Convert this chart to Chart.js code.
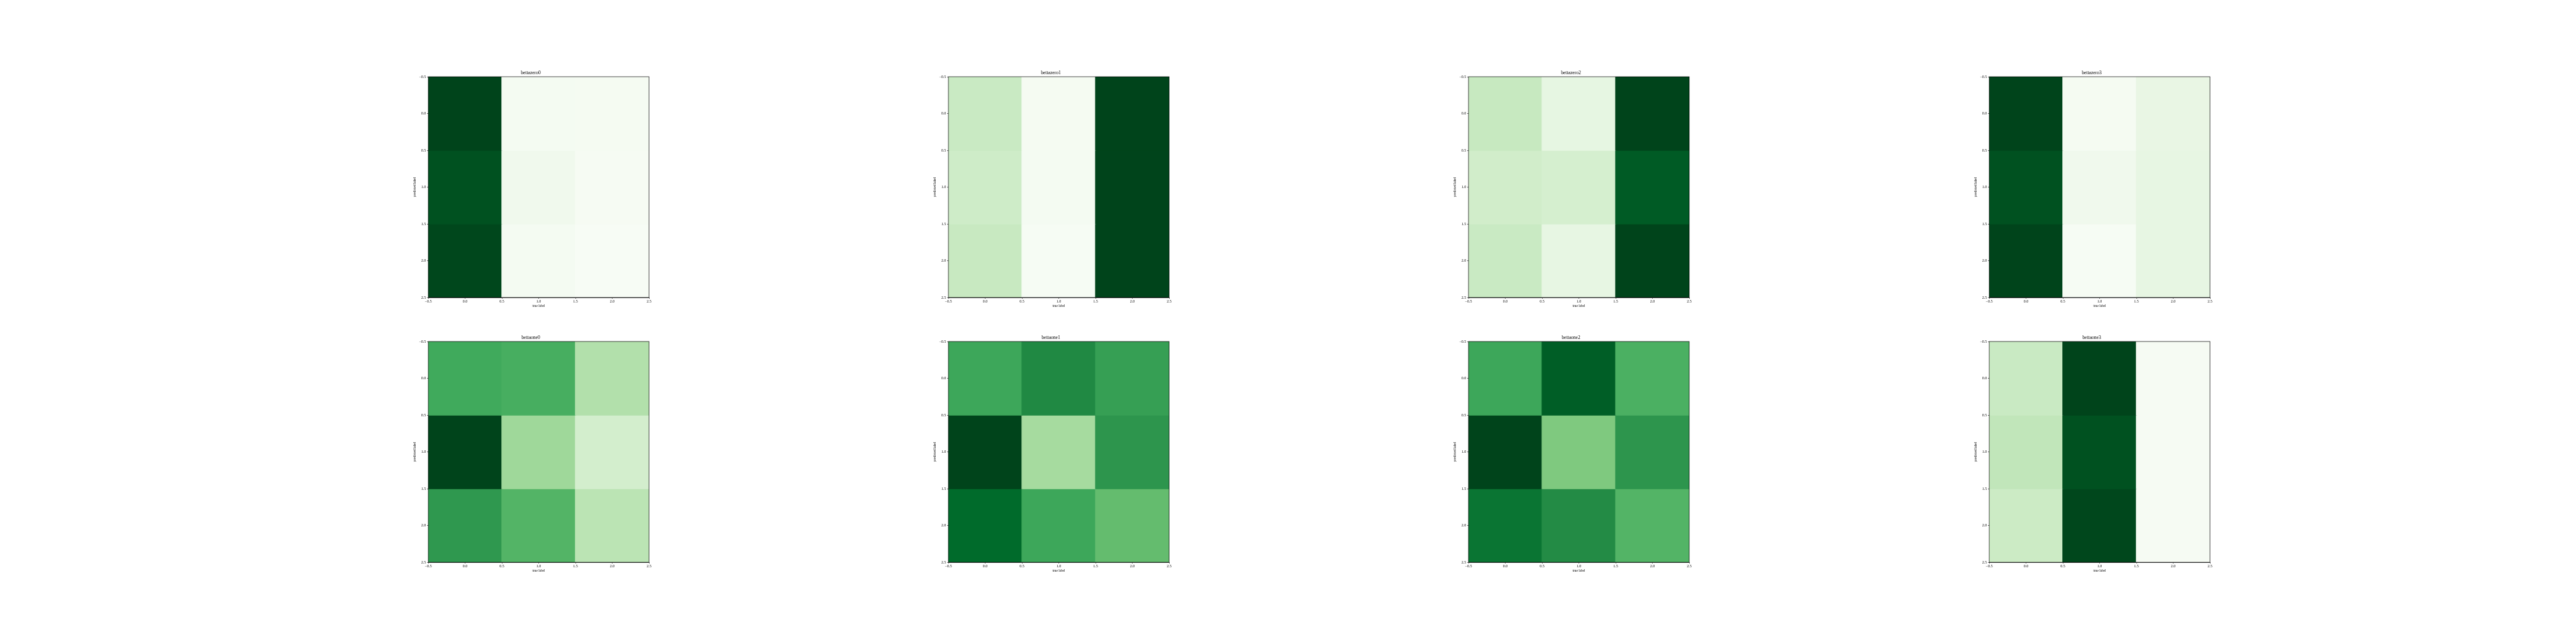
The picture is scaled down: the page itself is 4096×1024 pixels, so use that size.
<!DOCTYPE html>
<html>
<head>
<meta charset="utf-8">
<script src="https://cdn.jsdelivr.net/npm/chart.js@4.4.1/dist/chart.umd.min.js"></script>
<style>
  html, body { margin:0; padding:0; background:#ffffff; width:4096px; height:1024px; overflow:hidden; }
  .cell { position:absolute; }
  canvas { display:block; }
</style>
</head>
<body>
<script>
// ---- data (normalised colour level of each cell, rows = predicted label, cols = true label) ----
const titles = ["bettazero0","bettazero1","bettazero2","bettazero3",
                "bettaone0","bettaone1","bettaone2","bettaone3"];
const rowLabels = [0, 1, 2];
const colLabels = [0, 1, 2];
const tickValues = [-0.5, 0, 0.5, 1, 1.5, 2, 2.5];
const xLabel = "true label";
const yLabel = "predicted label";

const bettazero0 = [[1.00, 0.020, 0.015],[0.96, 0.050, 0.010],[0.99, 0.020, 0.000]];
const bettazero1 = [[0.240, 0.015, 1.00],[0.220, 0.020, 1.00],[0.245, 0.005, 1.00]];
const bettazero2 = [[0.250, 0.115, 1.00],[0.210, 0.190, 0.93],[0.240, 0.110, 1.00]];
const bettazero3 = [[1.00, 0.015, 0.100],[0.96, 0.050, 0.110],[1.00, 0.005, 0.110]];
const bettaone0  = [[0.63, 0.61, 0.32],[1.00, 0.38, 0.20],[0.70, 0.58, 0.29]];
const bettaone1  = [[0.64, 0.76, 0.67],[1.00, 0.36, 0.71],[0.88, 0.64, 0.54]];
const bettaone2  = [[0.64, 0.92, 0.60],[1.00, 0.47, 0.71],[0.84, 0.75, 0.58]];
const bettaone3  = [[0.24, 1.00, 0.010],[0.27, 0.96, 0.010],[0.23, 0.99, 0.010]];
const matrices = [bettazero0, bettazero1, bettazero2, bettazero3,
                  bettaone0, bettaone1, bettaone2, bettaone3];

// ---- style ----
const GREENS = [[247,252,245],[229,245,224],[199,233,192],[161,217,155],[116,196,118],
                [65,171,93],[35,139,69],[0,109,44],[0,68,27]];
function greens(t) {
  t = Math.max(0, Math.min(1, t));
  const p = t * (GREENS.length - 1);
  const i = Math.min(Math.floor(p), GREENS.length - 2);
  const f = p - i;
  const a = GREENS[i], b = GREENS[i + 1];
  const c = a.map((v, k) => Math.round(v + (b[k] - v) * f));
  return `rgb(${c[0]},${c[1]},${c[2]})`;
}

const SIDE = 351;
const LEFTS = [681, 1508, 2335, 3163];
const TOPS = [122, 543];
const Y_W = 25, X_H = 17, TITLE_H = 10, RIGHT_PAD = 12;
const FONT = "'Liberation Serif', 'DejaVu Serif', serif";

function fmt(v) {
  const s = Math.abs(v).toFixed(1);
  return v < 0 ? '\u2212' + s : s;
}

const frame = {
  id: 'frame',
  afterDraw(chart) {
    const a = chart.chartArea, ctx = chart.ctx;
    ctx.save();
    ctx.strokeStyle = '#000';
    ctx.lineWidth = 0.7;
    ctx.strokeRect(a.left, a.top, a.right - a.left, a.bottom - a.top);
    ctx.restore();
  }
};

matrices.forEach((m, idx) => {
  const r = Math.floor(idx / 4), c = idx % 4;
  const div = document.createElement('div');
  div.className = 'cell';
  const w = Y_W + SIDE + RIGHT_PAD, h = TITLE_H + SIDE + X_H;
  div.style.left = (LEFTS[c] - Y_W) + 'px';
  div.style.top = (TOPS[r] - TITLE_H) + 'px';
  div.style.width = w + 'px';
  div.style.height = h + 'px';
  const cv = document.createElement('canvas');
  cv.width = w; cv.height = h;
  cv.style.width = w + 'px'; cv.style.height = h + 'px';
  div.appendChild(cv);
  document.body.appendChild(div);

  // the bar ruler uses the 0.5-unit tick spacing, so barPercentage 2 gives cells 1 unit wide
  const datasets = rowLabels.map((row, ri) => ({
    data: colLabels.map((col) => ({ x: col, y: [row - 0.5, row + 0.5] })),
    backgroundColor: colLabels.map((col, ci) => greens(m[ri][ci])),
    borderWidth: 0,
    inflateAmount: 0.7,
    borderSkipped: false,
    grouped: false,
    barPercentage: 2,
    categoryPercentage: 1
  }));

  const axisCommon = {
    type: 'linear',
    min: tickValues[0],
    max: tickValues[tickValues.length - 1],
    offset: false,
    grid: { display: true, drawOnChartArea: false, drawTicks: true, tickLength: 2.1,
            color: '#000', lineWidth: 0.6, offset: false },
    border: { display: true, color: '#000', width: 0.7 },
  };

  new Chart(cv, {
    type: 'bar',
    data: { datasets },
    options: {
      responsive: false,
      animation: false,
      events: [],
      layout: { padding: { left: 0, top: 0, right: RIGHT_PAD, bottom: 0 } },
      plugins: {
        legend: { display: false },
        tooltip: { enabled: false },
        title: {
          display: true,
          text: titles[idx],
          color: '#000',
          font: { family: FONT, size: 7.6, weight: 'normal', lineHeight: 1.0 },
          padding: { top: 0, bottom: 2.4 }
        }
      },
      scales: {
        x: Object.assign({}, axisCommon, {
          position: 'bottom',
          afterBuildTicks: (s) => { s.ticks = tickValues.map(v => ({ value: v })); },
          ticks: { autoSkip: false, maxRotation: 0, minRotation: 0, padding: 1.2,
                   color: '#000', font: { family: FONT, size: 6 },
                   callback: (v) => fmt(v) },
          title: { display: true, text: xLabel, color: '#000',
                   font: { family: FONT, size: 5.3 }, padding: { top: 0, bottom: 0 } },
          afterFit: (s) => { s.height = X_H; }
        }),
        y: Object.assign({}, axisCommon, {
          position: 'left',
          reverse: true,
          afterBuildTicks: (s) => { s.ticks = tickValues.map(v => ({ value: v })); },
          ticks: { autoSkip: false, padding: 1.6, color: '#000',
                   font: { family: FONT, size: 6 }, callback: (v) => fmt(v) },
          title: { display: true, text: yLabel, color: '#000',
                   font: { family: FONT, size: 5.3 }, padding: { top: 0, bottom: 0 } },
          afterFit: (s) => { s.width = Y_W; }
        })
      }
    },
    plugins: [frame]
  });
});
</script>
</body>
</html>
